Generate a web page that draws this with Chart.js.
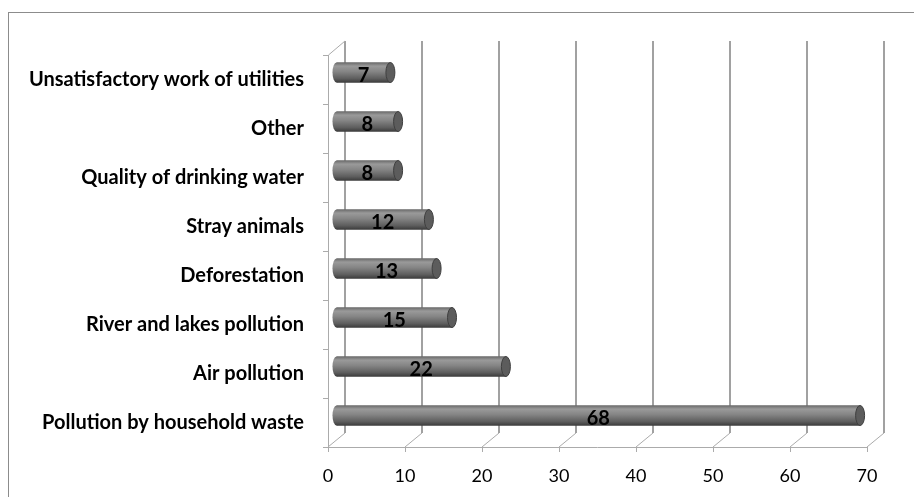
<!DOCTYPE html>
<html>
<head>
<meta charset="utf-8">
<script src="https://cdn.jsdelivr.net/npm/chart.js@4.4.1/dist/chart.umd.min.js"></script>
<style>
  html, body { margin: 0; padding: 0; background: #fff; }
  #wrap { width: 914px; height: 497px; }
</style>
</head>
<body>
<div id="wrap"><canvas id="problemsChart" width="914" height="497"></canvas></div>
<script>
const categories = [
  'Unsatisfactory work of utilities',
  'Other',
  'Quality of drinking water',
  'Stray animals',
  'Deforestation',
  'River and lakes pollution',
  'Air pollution',
  'Pollution by household waste'
];
const values = [7, 8, 8, 12, 13, 15, 22, 68];
const xMin = 0;
const xMax = 70;
const xStep = 10;

// depth of the fake 3d box, bars sit half way in
const depthX = 17;
const depthY = -14;

const cylinderGrad = (ctx, top, bottom) => {
  const g = ctx.createLinearGradient(0, top, 0, bottom);
  g.addColorStop(0, '#6a6a6a');
  g.addColorStop(0.18, '#9a9a9a');
  g.addColorStop(0.45, '#858585');
  g.addColorStop(0.8, '#5e5e5e');
  g.addColorStop(1, '#3c3c3c');
  return g;
};

const box3d = {
  id: 'box3d',
  beforeDraw(chart) {
    const ctx = chart.ctx;
    ctx.save();
    ctx.fillStyle = '#fff';
    ctx.fillRect(0, 0, chart.width, chart.height);
    ctx.strokeStyle = '#8c8c8c';
    ctx.lineWidth = 1;
    ctx.strokeRect(8.5, 12.5, chart.width + 20, chart.height + 20);
    ctx.restore();
  },
  beforeDatasetsDraw(chart) {
    const ctx = chart.ctx;
    const a = chart.chartArea;
    const x = chart.scales.x;
    ctx.save();
    // back wall lines
    ctx.strokeStyle = '#8a8a8a';
    ctx.lineWidth = 1.6;
    for (let v = xMin; v <= xMax; v += xStep) {
      const px = x.getPixelForValue(v) + depthX;
      ctx.beginPath();
      ctx.moveTo(px, a.top + depthY);
      ctx.lineTo(px, a.bottom + depthY);
      ctx.stroke();
    }
    // floor diagonals, front axis, left wall
    ctx.strokeStyle = '#ababab';
    ctx.lineWidth = 1;
    for (let v = xMin; v <= xMax; v += xStep) {
      const px = x.getPixelForValue(v);
      ctx.beginPath();
      ctx.moveTo(px, a.bottom);
      ctx.lineTo(px + depthX, a.bottom + depthY);
      ctx.moveTo(Math.round(px) + 0.5, a.bottom);
      ctx.lineTo(Math.round(px) + 0.5, a.bottom + 5);
      ctx.stroke();
    }
    ctx.beginPath();
    ctx.moveTo(a.left, a.bottom + 0.5);
    ctx.lineTo(a.right, a.bottom + 0.5);
    ctx.moveTo(a.left + 0.5, a.bottom);
    ctx.lineTo(a.left + 0.5, a.top);
    ctx.lineTo(a.left + depthX, a.top + depthY);
    ctx.stroke();
    for (let i = 0; i <= categories.length; i++) {
      const py = Math.round(a.top + (a.bottom - a.top) * i / categories.length) + 0.5;
      ctx.beginPath();
      ctx.moveTo(a.left - 5, py);
      ctx.lineTo(a.left, py);
      ctx.stroke();
    }
    ctx.restore();
    ctx.save();
    ctx.translate(depthX / 2, depthY / 2);
  },
  afterDatasetsDraw(chart) {
    const ctx = chart.ctx;
    const meta = chart.getDatasetMeta(0);
    meta.data.forEach((bar, i) => {
      const h = bar.height / 2;
      // left rounded end
      ctx.beginPath();
      ctx.ellipse(bar.base, bar.y, 4, h, 0, 0, Math.PI * 2);
      ctx.fillStyle = cylinderGrad(ctx, bar.y - h, bar.y + h);
      ctx.fill();
      // right cap
      ctx.beginPath();
      ctx.ellipse(bar.x, bar.y, 4.5, h, 0, 0, Math.PI * 2);
      ctx.fillStyle = '#5c5c5c';
      ctx.fill();
      ctx.strokeStyle = '#3f3f3f';
      ctx.lineWidth = 1;
      ctx.stroke();
      // value label
      ctx.fillStyle = '#000';
      ctx.font = 'bold 20px Lato';
      ctx.textAlign = 'center';
      ctx.textBaseline = 'middle';
      ctx.fillText(values[i], (bar.base + bar.x) / 2, bar.y + 3);
    });
    ctx.restore();
  }
};

new Chart(document.getElementById('problemsChart'), {
  type: 'bar',
  data: {
    labels: categories,
    datasets: [{
      data: values,
      barThickness: 20,
      borderWidth: 0,
      backgroundColor: (c) => {
        const chart = c.chart;
        if (!chart.chartArea || c.dataIndex === undefined) return '#808080';
        const py = chart.scales.y.getPixelForValue(c.dataIndex);
        return cylinderGrad(chart.ctx, py - 10, py + 10);
      }
    }]
  },
  options: {
    indexAxis: 'y',
    responsive: false,
    animation: false,
    events: [],
    layout: { padding: { top: 55, right: 47, left: 0, bottom: 0 } },
    plugins: {
      legend: { display: false },
      tooltip: { enabled: false }
    },
    scales: {
      x: {
        min: xMin,
        max: xMax,
        ticks: {
          stepSize: xStep,
          color: '#000',
          padding: 10,
          font: { family: 'Lato', size: 18 }
        },
        grid: { display: false },
        border: { display: false },
        afterFit: (s) => { s.height = 50; }
      },
      y: {
        ticks: {
          color: '#000',
          padding: 16,
          font: { family: 'Lato', size: 20, weight: 'bold' }
        },
        grid: { display: false },
        border: { display: false },
        afterFit: (s) => { s.width = 328; }
      }
    }
  },
  plugins: [box3d]
});
</script>
</body>
</html>
